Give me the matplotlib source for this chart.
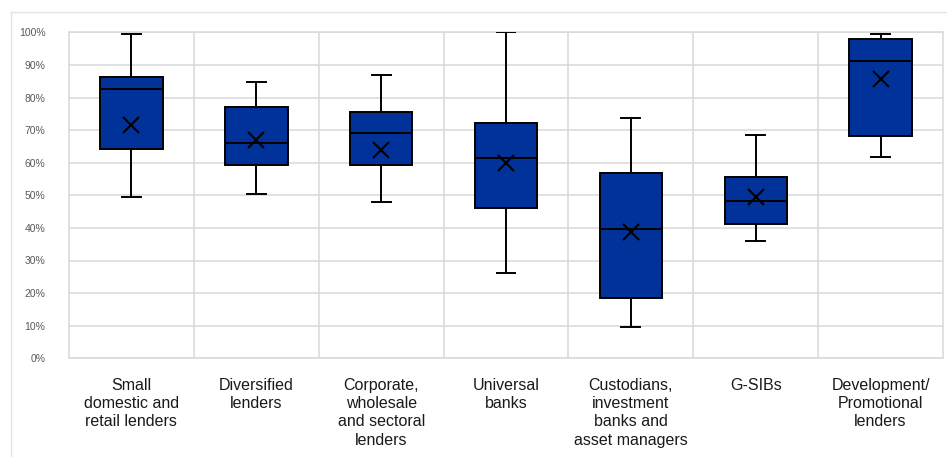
import matplotlib
matplotlib.use("Agg")
import matplotlib.pyplot as plt
from matplotlib.lines import Line2D
from matplotlib.ticker import FixedLocator, PercentFormatter

plt.rcParams['font.family'] = ['Liberation Sans', 'DejaVu Sans']

categories = [
    "Small\ndomestic and\nretail lenders",
    "Diversified\nlenders",
    "Corporate,\nwholesale\nand sectoral\nlenders",
    "Universal\nbanks",
    "Custodians,\ninvestment\nbanks and\nasset managers",
    "G-SIBs",
    "Development/\nPromotional\nlenders",
]
whisker_low = [49.4, 50.5, 47.9, 26.3, 9.6, 35.9, 61.7]
q1 = [64.2, 59.3, 59.3, 46.0, 18.4, 41.1, 68.2]
median = [82.7, 66.0, 69.2, 61.5, 39.8, 48.3, 91.2]
q3 = [86.3, 77.1, 75.5, 72.3, 56.9, 55.5, 98.0]
whisker_high = [99.5, 84.8, 86.8, 100.0, 73.6, 68.6, 99.6]
mean = [71.6, 67.0, 63.9, 59.8, 38.8, 49.6, 85.7]
yticks = [0, 10, 20, 30, 40, 50, 60, 70, 80, 90, 100]

W, H = 947, 457
fig = plt.figure(figsize=(W / 100, H / 100), dpi=100)
ax = fig.add_axes([69 / W, 1 - 358.3 / H, (943 - 69) / W, (358.3 - 32.3) / H])

stats = []
for i in range(len(categories)):
    stats.append(dict(whislo=whisker_low[i], q1=q1[i], med=median[i], q3=q3[i],
                      whishi=whisker_high[i], mean=mean[i], fliers=[]))

pos = list(range(1, len(categories) + 1))
ax.bxp(stats, positions=pos, widths=0.5, showmeans=True, patch_artist=True,
       boxprops=dict(facecolor='#003299', edgecolor='black', linewidth=1.4),
       medianprops=dict(color='black', linewidth=1.4),
       whiskerprops=dict(color='black', linewidth=1.4),
       capprops=dict(color='black', linewidth=1.4),
       capwidths=0.15,
       meanprops=dict(marker='x', markersize=11, markeredgecolor='black',
                      markeredgewidth=1.5, linestyle='none'),
       zorder=3)

ax.set_xlim(0.5, len(categories) + 0.5)
ax.set_ylim(0, 100)
ax.set_yticks(yticks)
ax.yaxis.set_major_formatter(PercentFormatter(decimals=0))
ax.set_xticks(pos)
ax.set_xticklabels(categories, fontsize=11.5, color='#1a1a1a', linespacing=1.28, va='top')
ax.xaxis.set_minor_locator(FixedLocator([p + 0.5 for p in pos[:-1]]))
ax.tick_params(axis='x', which='both', length=0, pad=14)
ax.tick_params(axis='y', length=0, pad=17, labelsize=7.5, labelcolor='#595959')

ax.grid(True, axis='y', which='major', color='#d9d9d9', linewidth=1.1, zorder=0)
ax.grid(True, axis='x', which='minor', color='#d9d9d9', linewidth=1.1, zorder=0)
ax.set_axisbelow(True)
for s in ax.spines.values():
    s.set_color('#d9d9d9')
    s.set_linewidth(1.1)

# outer frame
fig.add_artist(Line2D([10.7 / W, 10.7 / W], [0, 1 - 11.7 / H], color='#e3e3e3', linewidth=1.0,
                      transform=fig.transFigure))
fig.add_artist(Line2D([10.7 / W, 1], [1 - 11.7 / H, 1 - 11.7 / H], color='#e3e3e3', linewidth=1.0,
                      transform=fig.transFigure))

fig.savefig("out.png", dpi=100)
